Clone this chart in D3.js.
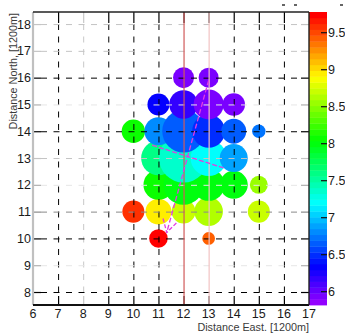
<!DOCTYPE html>
<html>
<head>
<meta charset="utf-8">
<script src="https://cdn.jsdelivr.net/npm/d3@7"></script>
<style>
  html, body { margin: 0; padding: 0; background: #fff; }
  svg { display: block; }
  .num { font-family: "Liberation Sans Narrow", "Arial Narrow", "Liberation Sans", Arial, sans-serif; font-size: 12.5px; fill: #1a1a1a; }
  .ttl { font-family: "Liberation Sans", Arial, sans-serif; font-size: 10.8px; fill: #3a3a3a; }
</style>
</head>
<body>
<svg id="chart" width="345" height="333"></svg>
<script>
// Grid cells (east, north), colour value and bubble weight, drawn in this order
const east   = [11, 13, 10, 11, 12, 13, 15, 11, 12, 13, 14, 15, 11, 12, 13, 14, 10, 11, 12, 13, 14, 15, 11, 12, 13, 14, 12, 13];
const north  = [10, 10, 11, 11, 11, 11, 11, 12, 12, 12, 12, 12, 13, 13, 13, 13, 14, 14, 14, 14, 14, 14, 15, 15, 15, 15, 16, 16];
const value  = [9.74, 9.42, 9.58, 8.95, 8.75, 8.60, 8.71, 8.08, 8.00, 8.00, 8.02, 8.55, 7.60, 7.36, 7.20, 6.89, 8.08, 6.81, 6.65, 6.49, 6.65, 6.73, 6.33, 6.20, 5.95, 5.95, 5.94, 5.94];
const weight = [13.8, 6.4, 19.4, 27, 23, 32.7, 19.4, 36, 64, 41, 31.4, 13, 47.9, 96, 51.8, 31.4, 21.9, 31.4, 72.6, 43.6, 25, 7.2, 19.4, 32.7, 36, 20.4, 17.6, 16];

// Axis ticks and colour-bar ticks
const eastTicks  = [6, 7, 8, 9, 10, 11, 12, 13, 14, 15, 16, 17];
const northTicks = [8, 9, 10, 11, 12, 13, 14, 15, 16, 17, 18];
const zTicks     = [6, 6.5, 7, 7.5, 8, 8.5, 9, 9.5];
const gridEast   = [7, 8, 9, 10, 11, 14, 15, 16];
const gridNorth  = [8, 9, 10, 11, 12, 13, 14, 15, 16, 17, 18];
// line shade per grid position
const shadeEast  = {7: "#000", 8: "#c8c8c8", 9: "#000", 10: "#000", 11: "#000", 12: "#000", 13: "#000", 14: "#000", 15: "#000", 16: "#000", 6: "#000", 17: "#000"};
const shadeNorth = {8: "#000", 9: "#e6e6e6", 10: "#000", 11: "#8a8a8a", 12: "#e6e6e6", 13: "#c4c4c4", 14: "#000", 15: "#e6e6e6", 16: "#000", 17: "#c4c4c4", 18: "#c4c4c4"};

// Reference meridians and the direction overlay
const refEast   = [12, 13];
const refColour = ["#d05a5a", "#f2c4c4"];
const crossLine = [[10.75, 13.48], [13.67, 12.61]];
const arrowLine = [[13.0, 15.9], [11.33, 10.22]];

const xDomain = [6, 17], yDomain = [7.515, 18.45], zDomain = [5.82, 9.78];

const svg = d3.select("#chart");
const L = 33, R = 309, T = 12, B = 305;
const x = d3.scaleLinear().domain(xDomain).range([L, R]);
const y = d3.scaleLinear().domain(yDomain).range([B, T]);
const r = d3.scaleSqrt().domain([0, 100]).range([0, 25]);

// 50-step violet-to-red palette (HLS hue scan, last step pure red)
const palette = d3.range(50).map(i => d3.hsl(Math.max(0, 280 - (i + 1) * 5.6), 1, 0.5).formatHex());
const colour = d3.scaleQuantize().domain(zDomain).range(palette);

// bubbles
const cells = east.map((e, i) => ({e, n: north[i], v: value[i], w: weight[i]}));
svg.append("g").selectAll("circle").data(cells).join("circle")
  .attr("cx", d => x(d.e)).attr("cy", d => y(d.n)).attr("r", d => r(d.w))
  .attr("fill", d => colour(d.v));

// dashed grid on top of the bubbles
const grid = svg.append("g").attr("stroke-width", 1).attr("stroke-dasharray", "6,6.5").attr("fill", "none");
grid.selectAll("line.v").data(gridEast).join("line").attr("class", "v")
  .attr("x1", d => x(d) + 0.5).attr("x2", d => x(d) + 0.5).attr("y1", T + 12).attr("y2", B - 9)
  .attr("stroke", d => shadeEast[d]);
grid.selectAll("line.h").data(gridNorth).join("line").attr("class", "h")
  .attr("x1", L + 8).attr("x2", R - 8).attr("y1", d => y(d) + 0.5).attr("y2", d => y(d) + 0.5)
  .attr("stroke", d => shadeNorth[d]);

// ticks on all four sides
const ticks = svg.append("g").attr("stroke-width", 1.2);
const inner = eastTicks.filter(d => d > xDomain[0] && d < xDomain[1]);
ticks.selectAll("line.tb").data(inner).join("line").attr("class", "tb")
  .attr("x1", d => x(d) + 0.5).attr("x2", d => x(d) + 0.5).attr("y1", B).attr("y2", B - 9)
  .attr("stroke", d => shadeEast[d]);
ticks.selectAll("line.tt").data(inner).join("line").attr("class", "tt")
  .attr("x1", d => x(d) + 0.5).attr("x2", d => x(d) + 0.5).attr("y1", T).attr("y2", T + 11)
  .attr("stroke", d => shadeEast[d]);
ticks.selectAll("line.tl").data(northTicks).join("line").attr("class", "tl")
  .attr("x1", L).attr("x2", L + 8).attr("y1", d => y(d) + 0.5).attr("y2", d => y(d) + 0.5)
  .attr("stroke", d => shadeNorth[d] === "#e6e6e6" ? "#b0b0b0" : shadeNorth[d]);
ticks.selectAll("line.tr").data(northTicks).join("line").attr("class", "tr")
  .attr("x1", R - 8).attr("x2", R).attr("y1", d => y(d) + 0.5).attr("y2", d => y(d) + 0.5)
  .attr("stroke", d => shadeNorth[d] === "#e6e6e6" ? "#b0b0b0" : shadeNorth[d]);

// reference meridians
svg.append("g").selectAll("line").data(refEast).join("line")
  .attr("x1", d => x(d) + 0.5).attr("x2", d => x(d) + 0.5).attr("y1", T).attr("y2", B)
  .attr("stroke", (d, i) => refColour[i]).attr("stroke-width", 1.2);

// direction overlay: cross line and arrow
const ov = svg.append("g").attr("stroke", "#e23ce2").attr("stroke-width", 1.3).attr("fill", "none");
const lineGen = d3.line().x(d => x(d[0])).y(d => y(d[1]));
ov.append("path").attr("d", lineGen(crossLine)).attr("stroke-dasharray", "5,2");
ov.append("path").attr("d", lineGen(arrowLine)).attr("stroke-dasharray", "5,2.5");
{
  const [x0, y0] = [x(arrowLine[0][0]), y(arrowLine[0][1])];
  const [x1, y1] = [x(arrowLine[1][0]), y(arrowLine[1][1])];
  const back = Math.atan2(y0 - y1, x0 - x1), len = 14.5, half = Math.PI / 6;
  const head = [back - half, back + half].map(a => [x1 + len * Math.cos(a), y1 + len * Math.sin(a)]);
  ov.append("path")
    .attr("d", `M${head[0][0]},${head[0][1]}L${x1},${y1}L${head[1][0]},${head[1][1]}`)
    .attr("stroke-dasharray", "4,2");
}

// frame
svg.append("line").attr("x1", L).attr("x2", L).attr("y1", T).attr("y2", B).attr("stroke", "#c0c0c0").attr("stroke-width", 2.2);
svg.append("line").attr("x1", L).attr("x2", R).attr("y1", B).attr("y2", B).attr("stroke", "#111").attr("stroke-width", 2);
svg.append("line").attr("x1", L).attr("x2", R).attr("y1", T).attr("y2", T).attr("stroke", "#222").attr("stroke-width", 1.6);

// tick labels
svg.append("g").selectAll("text").data(eastTicks).join("text").attr("class", "num")
  .attr("x", d => x(d)).attr("y", 317.5).attr("text-anchor", "middle").text(d => d);
svg.append("g").selectAll("text").data(northTicks).join("text").attr("class", "num")
  .attr("x", 31).attr("y", d => y(d)).attr("dy", "0.36em").attr("text-anchor", "end").text(d => d);

// axis titles
svg.append("text").attr("class", "ttl").attr("text-anchor", "end")
  .attr("x", R).attr("y", 330.5).text("Distance East. [1200m]");
svg.append("text").attr("class", "ttl").attr("text-anchor", "end")
  .attr("transform", "translate(17,13) rotate(-90)").text("Distance North, [1200m]");

// colour bar
const zy = d3.scaleLinear().domain(zDomain).range([B, T]);
const CL = 309, CR = 327;
const step = (zDomain[1] - zDomain[0]) / palette.length;
svg.append("g").selectAll("rect").data(palette).join("rect")
  .attr("x", CL).attr("width", CR - CL)
  .attr("y", (c, i) => zy(zDomain[0] + (i + 1) * step))
  .attr("height", (c, i) => zy(zDomain[0] + i * step) - zy(zDomain[0] + (i + 1) * step) + 0.4)
  .attr("fill", c => c);
svg.append("line").attr("x1", R).attr("x2", R).attr("y1", T).attr("y2", B).attr("stroke", "#222").attr("stroke-width", 1.4);
svg.append("g").selectAll("line").data(zTicks).join("line")
  .attr("x1", CR - 6).attr("x2", CR).attr("y1", d => zy(d)).attr("y2", d => zy(d))
  .attr("stroke", "#111").attr("stroke-width", 1.2);
svg.append("g").selectAll("text").data(zTicks).join("text").attr("class", "num")
  .attr("x", CR + 1).attr("y", d => zy(d)).attr("dy", "0.36em").text(d => d);

// small marks above the frame
svg.append("g").attr("stroke", "#333").attr("stroke-width", 1.5)
  .selectAll("line").data([[282, 5], [294, 5], [340, 5]]).join("line")
  .attr("x1", d => d[0]).attr("x2", d => d[0] + 3).attr("y1", d => d[1]).attr("y2", d => d[1]);
</script>
</body>
</html>
